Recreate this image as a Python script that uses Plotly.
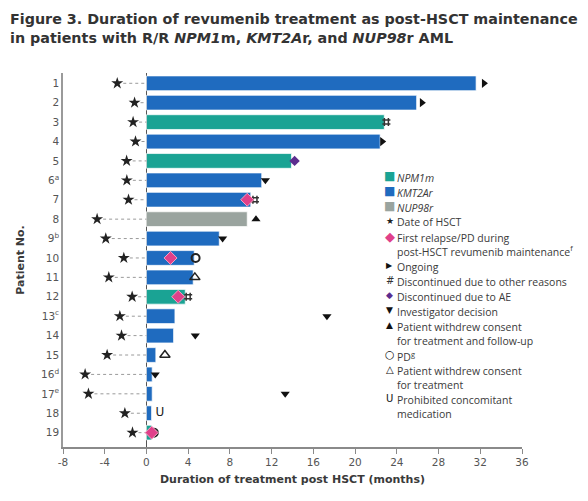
import plotly.graph_objects as go

# Patient rows, top to bottom
patients = ["1", "2", "3", "4", "5", "6<sup>a</sup>", "7", "8", "9<sup>b</sup>", "10",
            "11", "12", "13<sup>c</sup>", "14", "15", "16<sup>d</sup>", "17<sup>e</sup>", "18", "19"]
mutation = ["KMT2Ar", "KMT2Ar", "NPM1m", "KMT2Ar", "NPM1m", "KMT2Ar", "KMT2Ar", "NUP98r",
            "KMT2Ar", "KMT2Ar", "KMT2Ar", "NPM1m", "KMT2Ar", "KMT2Ar", "KMT2Ar", "KMT2Ar",
            "KMT2Ar", "KMT2Ar", "NPM1m"]
# months of treatment post HSCT
duration = [31.6, 25.9, 22.8, 22.4, 13.9, 11.05, 10.0, 9.66, 6.98, 4.58,
            4.48, 3.72, 2.73, 2.6, 0.9, 0.55, 0.55, 0.49, 0.5]
# date of HSCT relative to start of maintenance (months)
hsct = [-2.8, -1.14, -1.28, -1.05, -1.9, -1.88, -1.72, -4.73, -3.9, -2.17,
        -3.61, -1.37, -2.55, -2.39, -3.77, -5.88, -5.56, -2.07, -1.34]

# events: patient number -> month
relapse_pt = [7, 10, 12, 19]
relapse_x = [9.66, 2.31, 3.04, 0.5]
ongoing_pt = [1, 2, 4]
ongoing_x = [32.35, 26.4, 22.6]
other_pt = [3, 7, 12]
other_x = [23.0, 10.4, 4.0]
ae_pt = [5]
ae_x = [14.2]
invest_pt = [6, 9, 13, 14, 16, 17]
invest_x = [11.4, 7.3, 17.3, 4.68, 0.84, 13.3]
withdrew_fu_pt = [8]
withdrew_fu_x = [10.5]
pd_pt = [10, 19]
pd_x = [4.71, 0.7]
withdrew_tx_pt = [11, 15]
withdrew_tx_x = [4.64, 1.77]
prohibited_pt = [18]
prohibited_x = [0.87]

x_ticks = [-8, -4, 0, 4, 8, 12, 16, 20, 24, 28, 32, 36]

COLORS = {"NPM1m": "#1aa394", "KMT2Ar": "#1f6bbf", "NUP98r": "#9aa49f"}
FONT = "DejaVu Sans"
LFONT = "Open Sans"
TXT = "#3a3a3a"

# page body has an 8px margin, so the figure is sized to fit inside it
W, H = 572, 485
ML, MR, MT, MB = 55, 58, 65, 46
PW, PH = W - ML - MR, H - MT - MB

rows = list(range(len(patients)))


def idx(pts):
    return [p - 1 for p in pts]


def px(x):
    return (x - ML) / PW


def py(y):
    return (H - MB - y) / PH


fig = go.Figure()

for mut, col in COLORS.items():
    r = [i for i in rows if mutation[i] == mut]
    fig.add_trace(go.Bar(
        x=[duration[i] for i in r], y=r, orientation="h", width=0.76,
        marker=dict(color=col, line=dict(color="rgba(255,255,255,0.7)", width=1)),
        showlegend=False,
    ))

# dotted connector from HSCT date to start
lx, ly = [], []
for i in rows:
    lx += [hsct[i], 0, None]
    ly += [i, i, None]
fig.add_trace(go.Scatter(x=lx, y=ly, mode="lines",
                         line=dict(color="#9a9a9a", width=1, dash="dot"), showlegend=False))

fig.add_trace(go.Scatter(x=hsct, y=rows, mode="markers",
                         marker=dict(symbol="star", size=9, color="#222"), showlegend=False))


def events(xs, pts, **mk):
    fig.add_trace(go.Scatter(x=xs, y=idx(pts), mode="markers", marker=mk, showlegend=False))


events(ongoing_x, ongoing_pt, symbol="triangle-right", size=8, color="#111")
events(other_x, other_pt, symbol="hash-open", size=8, color="#333", line=dict(width=1.5, color="#333"))
events(ae_x, ae_pt, symbol="diamond", size=8, color="#5b2d8e")
events(invest_x, invest_pt, symbol="triangle-down", size=8, color="#111")
events(withdrew_fu_x, withdrew_fu_pt, symbol="triangle-up", size=8, color="#111")
events(pd_x, pd_pt, symbol="circle-open", size=8, color="#222", line=dict(width=2, color="#222"))
events(withdrew_tx_x, withdrew_tx_pt, symbol="triangle-up-open", size=9, color="#222",
       line=dict(width=1.5, color="#222"))
events(relapse_x, relapse_pt, symbol="diamond", size=10, color="#e0408a",
       line=dict(width=1, color="#f5a0c0"))
fig.add_trace(go.Scatter(x=prohibited_x, y=idx(prohibited_pt), mode="text", text=["U"],
                         textfont=dict(family=FONT, size=12, color="#222"),
                         textposition="middle right", showlegend=False))

# legend drawn as annotations
legend_items = [
    ("■", COLORS["NPM1m"], 12, "<i>NPM1m</i>"),
    ("■", COLORS["KMT2Ar"], 12, "<i>KMT2Ar</i>"),
    ("■", COLORS["NUP98r"], 12, "<i>NUP98r</i>"),
    ("★", "#222", 9, "Date of HSCT"),
    ("◆", "#e0408a", 13, "First relapse/PD during<br>post-HSCT revumenib maintenance<sup>f</sup>"),
    ("▶", "#111", 8, "Ongoing"),
    ("#", "#333", 10, "Discontinued due to other reasons"),
    ("◆", "#5b2d8e", 9, "Discontinued due to AE"),
    ("▼", "#111", 9, "Investigator decision"),
    ("▲", "#111", 9, "Patient withdrew consent<br>for treatment and follow-up"),
    ("○", "#111", 11, "PD<sup>g</sup>"),
    ("△", "#111", 10, "Patient withdrew consent<br>for treatment"),
    ("U", "#111", 10, "Prohibited concomitant<br>medication"),
]
ypos = 168
for sym, col, sz, label in legend_items:
    fig.add_annotation(x=px(381.5), y=py(ypos), xref="paper", yref="paper",
                       xanchor="center", yanchor="middle", showarrow=False,
                       text=sym, font=dict(family=FONT, size=sz, color=col))
    fig.add_annotation(x=px(387), y=py(ypos - 7.5), xref="paper", yref="paper",
                       xanchor="left", yanchor="top", align="left", showarrow=False,
                       text=label, font=dict(family=LFONT, size=10.5, color=TXT))
    ypos += 15 + 14 * label.count("<br>")

fig.update_layout(
    width=W, height=H,
    margin=dict(l=ML, r=MR, t=MT, b=MB),
    paper_bgcolor="white", plot_bgcolor="white",
    barmode="overlay",
    title=dict(
        text="Figure 3. Duration of revumenib treatment as post-HSCT maintenance<br>"
             "in patients with R/R <i>NPM1</i>m, <i>KMT2A</i>r, and <i>NUP98</i>r AML",
        x=2 / W, xanchor="left", xref="container",
        y=1 - 16 / H, yanchor="middle", yref="container",
        font=dict(family=FONT, size=14.3, color="#333", weight="bold"),
    ),
)
fig.update_xaxes(
    range=[-8, 36], tickvals=x_ticks, ticktext=[str(t) for t in x_ticks], showgrid=False,
    zeroline=True, zerolinecolor="#555", zerolinewidth=1,
    showline=True, linecolor="#8a8a8a", linewidth=1.5,
    ticks="outside", ticklen=5, tickcolor="#8a8a8a",
    tickfont=dict(family=FONT, size=10.5, color="#555"),
    title=dict(text="<b>Duration of treatment post HSCT (months)</b>", standoff=8,
               font=dict(family=FONT, size=11, color=TXT)),
    automargin=False,
)
fig.update_yaxes(
    range=[18.74, -0.53], tickvals=rows, ticktext=patients, showgrid=False,
    zeroline=False, showline=True, linecolor="#9a9a9a", linewidth=1.5,
    ticks="", tickfont=dict(family=FONT, size=10.5, color="#555"),
    title=dict(text="<b>Patient No.</b>", standoff=14,
               font=dict(family=FONT, size=11, color=TXT)),
    automargin=False,
)

fig.write_html("out.html")
